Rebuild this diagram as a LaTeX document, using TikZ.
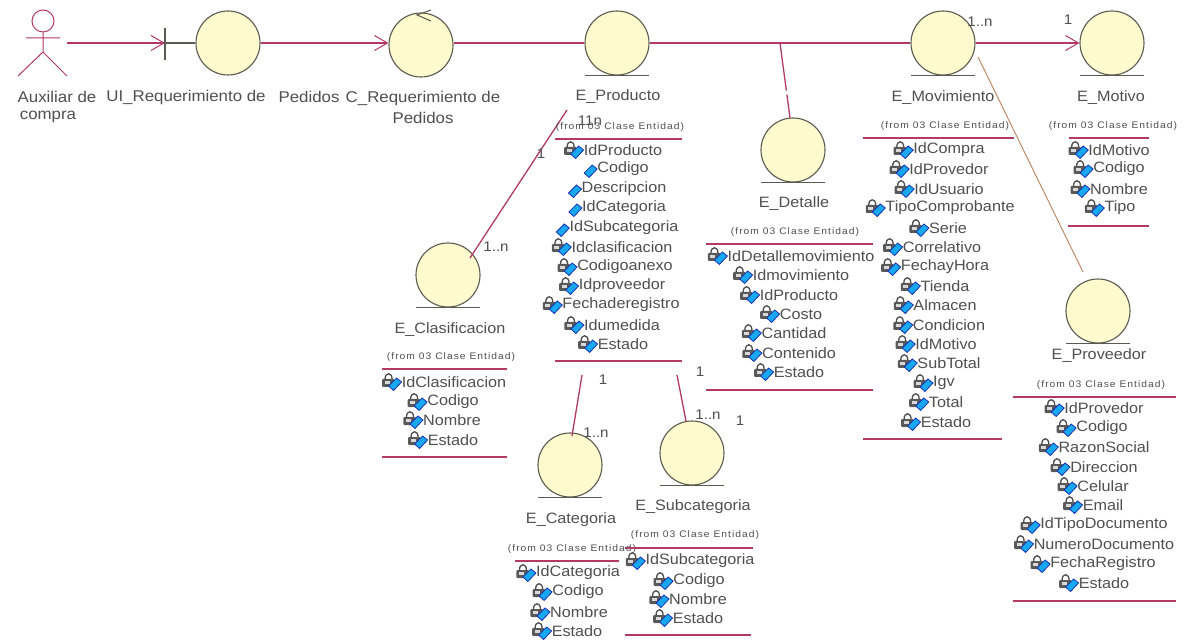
\documentclass[tikz,border=0pt]{standalone}
\usepackage{fontspec}
\setmainfont[FakeStretch=1.08]{Liberation Sans}
\usetikzlibrary{arrows.meta}
\definecolor{rel}{HTML}{B23A64}
\definecolor{tan1}{HTML}{C08A68}
\definecolor{inkc}{HTML}{505050}
\definecolor{ballfill}{HTML}{FFFBCF}
\definecolor{ballline}{HTML}{5A5A50}
\definecolor{keyblue}{HTML}{18A8F0}
\definecolor{keyedge}{HTML}{1A30B0}
\tikzset{
  relline/.style={draw=rel,line width=1.3pt},
  openarrow/.style={-{Straight Barb[length=13pt,width=15pt,line width=1pt]}},
  ball/.style={circle,draw=ballline,fill=ballfill,line width=1.1pt,minimum size=64pt,inner sep=0pt},
  under/.style={draw=ballline,line width=1pt},
  sep/.style={draw=rel,line width=1.1pt},
  lbl/.style={text=inkc,inner sep=0pt,font=\fontsize{15}{18}\selectfont},
  toplbl/.style={text=inkc,inner sep=0pt,font=\fontsize{15.6}{18}\selectfont},
  from/.style={text=inkc,inner sep=0pt,font=\fontsize{9.5}{11}\selectfont\addfontfeature{LetterSpace=11}},
  attrtext/.style={text=inkc,inner sep=0pt,font=\fontsize{15}{18}\selectfont},
  mult/.style={text=inkc,inner sep=0pt,font=\fontsize{14}{16}\selectfont},
  keyicon/.pic={
    \path[draw=keyedge,fill=keyblue,line width=.8pt] (-13,4) -- (-5,-4) -- (0,0) -- (-8,8.5) -- cycle;
  },
  lockicon/.pic={
    \path[draw=black!70,line width=1.3pt] (-16.5,-3) .. controls (-16.5,-10) and (-9.5,-10) .. (-9.5,-3);
    \path[fill=black!65,rounded corners=1pt] (-19.5,-3) rectangle (-7,5);
    \path[fill=black!15] (-17,-1) rectangle (-12,2);
  }
}
\newcommand{\att}[4]{\node[attrtext] (#1) at (#2,#3) {#4};
  \pic at (#1.west) {lockicon}; \pic at (#1.west) {keyicon};}
\newcommand{\attk}[4]{\node[attrtext] (#1) at (#2,#3) {#4};
  \pic at (#1.west) {keyicon};}
\newcommand{\entity}[3]{\node[ball] (#1) at (#2,#3) {};
  \draw[under] ([xshift=-32pt]#1.south) -- ([xshift=32pt]#1.south);}
\begin{document}
\begin{tikzpicture}[x=1pt,y=-1pt]
\useasboundingbox (0,0) rectangle (1184,644);
\fill[white] (0,0) rectangle (1184,644);
% actor
\node[circle,draw=rel,line width=1pt,minimum size=22pt,inner sep=0pt] (head) at (43,21) {};
\coordinate (hip) at (43,52);
\coordinate (armL) at (26,38); \coordinate (armR) at (60,38);
\coordinate (legL) at (18,76); \coordinate (legR) at (67,76);
\draw[draw=rel,line width=1pt] (head.south) -- (hip) (armL) -- (armR) (legL) -- (hip) -- (legR);
\coordinate (actorout) at (67,43);
% balls
\node[ball] (ui) at (228,43) {};
\coordinate (bnd) at (165,43);
\coordinate (bndT) at (165,28); \coordinate (bndB) at (165,60);
\draw[draw=ballline,line width=1.2pt] (bndT) -- (bndB) (bnd) -- (ui.west);
\node[ball] (ctrl) at (421,45) {};
\coordinate (ca) at (431,10); \coordinate (cb) at (417,15); \coordinate (cc) at (431,21);
\draw[draw=ballline,line width=1pt] (ca) -- (cb) -- (cc);
\entity{prod}{617}{43}
\entity{mov}{943}{43}
\entity{mot}{1112}{43}
\entity{det}{793}{150}
\entity{cla}{448}{275}
\entity{cat}{570}{465}
\entity{sub}{692}{453}
\entity{prv}{1098}{311}
% connectors
\draw[relline,openarrow] (actorout) -- (bnd);
\draw[relline,openarrow] (ui.east) -- (ctrl.west |- ui.east);
\draw[relline] (ctrl.east |- ui.east) -- (prod.west);
\draw[relline] (prod.east) -- (mov.west);
\draw[relline,openarrow] (mov.east) -- (mot.west);
\coordinate (dA) at (780,43); \coordinate (dB) at (790,118);
\draw[relline,dash pattern=on 48pt off 4pt on 30pt] (dA) -- (dB);
\coordinate (clA) at (567,110); \coordinate (clB) at (470,258);
\draw[relline] (clA) -- (clB);
\coordinate (caA) at (582,375); \coordinate (caB) at (572,436);
\draw[relline] (caA) -- (caB);
\coordinate (suA) at (677,375); \coordinate (suB) at (686,421);
\draw[relline] (suA) -- (suB);
\coordinate (pvA) at (978,57); \coordinate (pvB) at (1083,272);
\draw[draw=tan1,line width=1pt] (pvA) -- (pvB);
% top labels
\node[toplbl] (t1) at (57,97) {Auxiliar de};
\node[toplbl] (t2) at (48,117) {compra};
\node[toplbl] (t3) at (186,97) {UI\_Requerimiento de};
\node[toplbl] (t4) at (309,97) {Pedidos};
\node[toplbl] (t5) at (423,98) {C\_Requerimiento de};
\node[toplbl] (t6) at (423,118) {Pedidos};
% multiplicities
\node[mult] (m1) at (541,154) {1};
\node[mult] (m2) at (496,247) {1..n};
\node[mult] (m3) at (590,121) {11n};
\node[mult] (m4) at (603,380) {1};
\node[mult] (m5) at (596,433) {1..n};
\node[mult] (m6) at (700,372) {1};
\node[mult] (m7) at (708,415) {1..n};
\node[mult] (m8) at (740,421) {1};
\node[mult] (m9) at (980,22) {1..n};
\node[mult] (m10) at (1068,20) {1};
% E_Producto
\node[lbl] (pn) at (618,97) {E\_Producto};
\node[from] (pf) at (620,127) {(from 03 Clase Entidad)};
\draw[sep] (555,139) -- (682,139);
\att{p1}{623}{150}{IdProducto}
\attk{p2}{623}{169}{Codigo}
\attk{p3}{624}{189}{Descripcion}
\attk{p4}{624}{208}{IdCategoria}
\attk{p5}{624}{228}{IdSubcategoria}
\att{p6}{622}{247}{Idclasificacion}
\att{p7}{625}{267}{Codigoanexo}
\att{p8}{622}{286}{Idproveedor}
\att{p9}{621}{305}{Fechaderegistro}
\att{p10}{622}{325}{Idumedida}
\att{p11}{623}{344}{Estado}
\draw[sep] (555,361) -- (682,361);
% E_Detalle
\node[lbl] (dn) at (794,204) {E\_Detalle};
\node[from] (df) at (795,232) {(from 03 Clase Entidad)};
\draw[sep] (706,244) -- (873,244);
\att{d1}{801}{256}{IdDetallemovimiento}
\att{d2}{801}{275}{Idmovimiento}
\att{d3}{799}{295}{IdProducto}
\att{d4}{801}{314}{Costo}
\att{d5}{794}{333}{Cantidad}
\att{d6}{799}{353}{Contenido}
\att{d7}{799}{372}{Estado}
\draw[sep] (706,390) -- (873,390);
% E_Movimiento
\node[lbl] (mn) at (943,98) {E\_Movimiento};
\node[from] (mf) at (945,126) {(from 03 Clase Entidad)};
\draw[sep] (863,138) -- (1014,138);
\att{v1}{949}{150}{IdCompra}
\att{v2}{949}{169}{IdProvedor}
\att{v3}{949}{189}{IdUsuario}
\att{v4}{950}{208}{TipoComprobante}
\att{v5}{948}{228}{Serie}
\att{v6}{942}{247}{Correlativo}
\att{v7}{945}{267}{FechayHora}
\att{v8}{945}{286}{Tienda}
\att{v9}{945}{305}{Almacen}
\att{v10}{949}{325}{Condicion}
\att{v11}{946}{344}{IdMotivo}
\att{v12}{949}{363}{SubTotal}
\att{v13}{944}{383}{Igv}
\att{v14}{946}{402}{Total}
\att{v15}{946}{422}{Estado}
\draw[sep] (863,439) -- (1002,439);
% E_Motivo
\node[lbl] (on) at (1111,98) {E\_Motivo};
\node[from] (of) at (1113,126) {(from 03 Clase Entidad)};
\draw[sep] (1069,138) -- (1149,138);
\att{o1}{1119}{150}{IdMotivo}
\att{o2}{1119}{169}{Codigo}
\att{o3}{1119}{189}{Nombre}
\att{o4}{1120}{208}{Tipo}
\draw[sep] (1068,226) -- (1149,226);
% E_Proveedor
\node[lbl] (rn) at (1099,356) {E\_Proveedor};
\node[from] (rf) at (1101,385) {(from 03 Clase Entidad)};
\draw[sep] (1013,397) -- (1176,397);
\att{r1}{1104}{408}{IdProvedor}
\att{r2}{1102}{428}{Codigo}
\att{r3}{1104}{447}{RazonSocial}
\att{r4}{1104}{467}{Direccion}
\att{r5}{1103}{486}{Celular}
\att{r6}{1103}{505}{Email}
\att{r7}{1104}{525}{IdTipoDocumento}
\att{r8}{1104}{544}{NumeroDocumento}
\att{r9}{1103}{564}{FechaRegistro}
\att{r10}{1104}{583}{Estado}
\draw[sep] (1013,601) -- (1176,601);
% E_Clasificacion
\node[lbl] (cn) at (450,330) {E\_Clasificacion};
\node[from] (cf) at (451,357) {(from 03 Clase Entidad)};
\draw[sep] (382,369) -- (507,369);
\att{c1}{454}{382}{IdClasificacion}
\att{c2}{453}{402}{Codigo}
\att{c3}{452}{420}{Nombre}
\att{c4}{453}{440}{Estado}
\draw[sep] (382,457) -- (507,457);
% E_Categoria
\node[lbl] (an) at (571,520) {E\_Categoria};
\node[from] (af) at (572,549) {(from 03 Clase Entidad)};
\draw[sep] (515,561) -- (619,561);
\att{a1}{578}{573}{IdCategoria}
\att{a2}{578}{592}{Codigo}
\att{a3}{579}{612}{Nombre}
\att{a4}{577}{631}{Estado}
% E_Subcategoria
\node[lbl] (sn) at (693,507) {E\_Subcategoria};
\node[from] (sf) at (695,535) {(from 03 Clase Entidad)};
\draw[sep] (625,548) -- (753,548);
\att{s1}{700}{561}{IdSubcategoria}
\att{s2}{699}{581}{Codigo}
\att{s3}{698}{599}{Nombre}
\att{s4}{698}{618}{Estado}
\draw[sep] (625,635) -- (751,635);
\end{tikzpicture}
\end{document}
